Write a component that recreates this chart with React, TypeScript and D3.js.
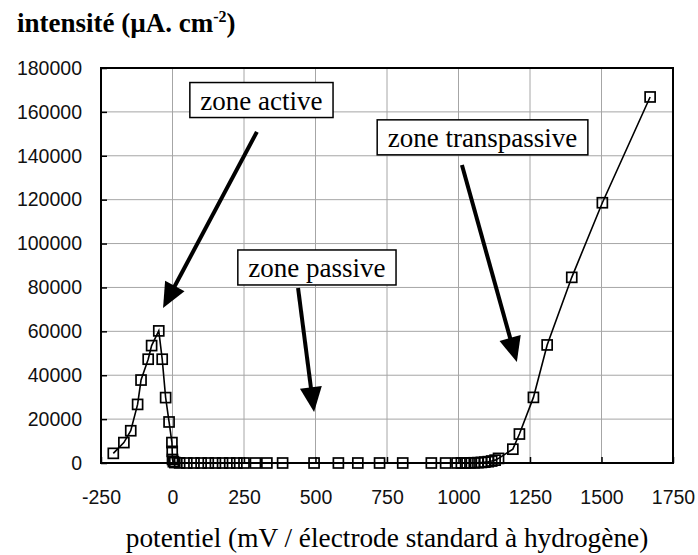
import React, { useEffect, useRef } from "react";
import * as d3 from "d3";

// potentiel (mV / ESH) et intensité (µA.cm-2)
const potentiel: number[] = [
    -207, -170, -146, -122, -110, -85, -73, -48, -36, -24, -12, -2, -1, 0, 3, 8,
    25, 50, 75, 100, 125, 150, 175, 200, 225, 250, 290, 330, 385, 495, 580,
    648, 724, 805, 905, 955,
    995, 1010, 1025, 1040, 1055, 1068, 1080, 1092, 1104, 1116, 1128, 1140,
    1190, 1213, 1262, 1310, 1396, 1503, 1670,
];
const intensite: number[] = [
    4400, 9300, 14700, 26700, 37800, 47300, 53500, 60200, 47300, 29800, 18700,
    9300, 5300, 1600, 600, 200,
    50, 0, 0, 0, 0, 0, 0, 0, 0, 0, 0, 0, 0, 0, 0,
    0, 0, 0, 0, 0,
    0, 0, 0, 50, 100, 150, 250, 400, 600, 900, 1300, 2100,
    6300, 13200, 29900, 53800, 84600, 118600, 166800,
];

const xTicks: number[] = [-250, 0, 250, 500, 750, 1000, 1250, 1500, 1750];
const yTicks: number[] = [
    0, 20000, 40000, 60000, 80000, 100000, 120000, 140000, 160000, 180000,
];

const zoneLabels: string[] = ["zone active", "zone passive", "zone transpassive"];
// centre de la boîte, départ et pointe de la flèche (en unités du graphique)
const zoneBox: [number, number][] = [
    [311, 165400],
    [505, 89100],
    [1084, 148400],
];
const arrowFrom: [number, number][] = [
    [295, 150900],
    [439, 79800],
    [1012, 135800],
];
const arrowTo: [number, number][] = [
    [-33, 70600],
    [495, 23200],
    [1204, 46000],
];

const width = 698;
const height = 555;
const margins = { top: 68, right: 25, bottom: 92, left: 101 };
const serif = "'Liberation Serif', 'Times New Roman', serif";
const sans = "'Liberation Sans', Arial, sans-serif";

const App: React.FC = () => {
    const svgRef = useRef<SVGSVGElement | null>(null);

    useEffect(() => {
        if (!svgRef.current) return;
        const svg = d3.select(svgRef.current);
        svg.selectAll("*").remove();

        const x = d3
            .scaleLinear()
            .domain([-250, 1750])
            .range([margins.left, width - margins.right]);
        const y = d3
            .scaleLinear()
            .domain([0, 180000])
            .range([height - margins.bottom, margins.top]);

        svg.append("rect")
            .attr("width", width)
            .attr("height", height)
            .attr("fill", "white");

        // grid
        svg.append("g")
            .attr("stroke", "#a6a6a6")
            .attr("stroke-width", 1)
            .selectAll("line")
            .data(xTicks.slice(1, -1))
            .join("line")
            .attr("x1", (d) => x(d))
            .attr("x2", (d) => x(d))
            .attr("y1", y(0))
            .attr("y2", y(180000));
        svg.append("g")
            .attr("stroke", "#a6a6a6")
            .attr("stroke-width", 1)
            .selectAll("line")
            .data(yTicks.slice(1, -1))
            .join("line")
            .attr("x1", x(-250))
            .attr("x2", x(1750))
            .attr("y1", (d) => y(d))
            .attr("y2", (d) => y(d));

        // axes
        svg.append("g")
            .attr("transform", `translate(0,${y(0)})`)
            .call(
                d3
                    .axisBottom(x)
                    .tickValues(xTicks)
                    .tickSize(-6)
                    .tickPadding(27)
                    .tickFormat((d) => String(d))
            )
            .call((g) => g.select(".domain").remove())
            .call((g) => g.selectAll(".tick line").attr("stroke", "black").attr("stroke-width", 1.5))
            .call((g) =>
                g
                    .selectAll(".tick text")
                    .attr("fill", "#111")
                    .attr("font-family", sans)
                    .attr("font-size", 19.5)
            );

        svg.append("g")
            .attr("transform", `translate(${x(-250)},0)`)
            .call(
                d3
                    .axisLeft(y)
                    .tickValues(yTicks)
                    .tickSize(-6)
                    .tickPadding(19)
                    .tickFormat((d) => String(d))
            )
            .call((g) => g.select(".domain").remove())
            .call((g) => g.selectAll(".tick line").attr("stroke", "black").attr("stroke-width", 1.5))
            .call((g) =>
                g
                    .selectAll(".tick text")
                    .attr("fill", "#111")
                    .attr("font-family", sans)
                    .attr("font-size", 19.5)
            );

        // frame
        svg.append("rect")
            .attr("x", x(-250))
            .attr("y", y(180000))
            .attr("width", x(1750) - x(-250))
            .attr("height", y(0) - y(180000))
            .attr("fill", "none")
            .attr("stroke", "black")
            .attr("stroke-width", 2);

        // curve
        const pts = potentiel.map((p, i) => [p, intensite[i]] as [number, number]);
        const line = d3
            .line<[number, number]>()
            .x((d) => x(d[0]))
            .y((d) => y(d[1]));
        svg.append("path")
            .datum(pts)
            .attr("d", line)
            .attr("fill", "none")
            .attr("stroke", "black")
            .attr("stroke-width", 1.6);

        svg.append("g")
            .attr("fill", "none")
            .attr("stroke", "black")
            .attr("stroke-width", 1.7)
            .selectAll("rect")
            .data(pts)
            .join("rect")
            .attr("x", (d) => x(d[0]) - 5)
            .attr("y", (d) => y(d[1]) - 5)
            .attr("width", 10)
            .attr("height", 10);

        // arrows
        zoneLabels.forEach((_, i) => {
            const x0 = x(arrowFrom[i][0]);
            const y0 = y(arrowFrom[i][1]);
            const x1 = x(arrowTo[i][0]);
            const y1 = y(arrowTo[i][1]);
            const len = Math.hypot(x1 - x0, y1 - y0);
            const ux = (x1 - x0) / len;
            const uy = (y1 - y0) / len;
            const headLen = 25;
            const headW = 11;
            const bx = x1 - ux * headLen;
            const by = y1 - uy * headLen;
            svg.append("line")
                .attr("x1", x0)
                .attr("y1", y0)
                .attr("x2", bx + ux * 2)
                .attr("y2", by + uy * 2)
                .attr("stroke", "black")
                .attr("stroke-width", 4);
            svg.append("path")
                .attr(
                    "d",
                    `M${x1},${y1}L${bx - uy * headW},${by + ux * headW}L${bx + uy * headW},${by - ux * headW}Z`
                )
                .attr("fill", "black");
        });

        // labelled boxes
        zoneLabels.forEach((label, i) => {
            const cx = x(zoneBox[i][0]);
            const cy = y(zoneBox[i][1]);
            const g = svg.append("g");
            const rect = g.append("rect");
            const text = g
                .append("text")
                .attr("x", cx)
                .attr("y", cy + 9.5)
                .attr("text-anchor", "middle")
                .attr("font-family", serif)
                .attr("font-size", 27)
                .attr("fill", "black")
                .text(label);
            const w = (text.node() as SVGTextElement).getComputedTextLength() + 21;
            const h = 35;
            rect.attr("x", cx - w / 2)
                .attr("y", cy - h / 2)
                .attr("width", w)
                .attr("height", h)
                .attr("fill", "white")
                .attr("stroke", "black")
                .attr("stroke-width", 1.5);
        });

        // titles
        const title = svg
            .append("text")
            .attr("x", 17)
            .attr("y", 32)
            .attr("font-family", serif)
            .attr("font-size", 27)
            .attr("font-weight", "bold")
            .attr("fill", "black");
        title.append("tspan").text("intensité (µA. cm");
        title.append("tspan").attr("font-size", 16).attr("dy", -10).text("-2");
        title.append("tspan").attr("dy", 10).text(")");

        svg.append("text")
            .attr("x", (x(-250) + x(1750)) / 2)
            .attr("y", 547)
            .attr("text-anchor", "middle")
            .attr("font-family", serif)
            .attr("font-size", 27.3)
            .attr("fill", "black")
            .text("potentiel (mV / électrode standard à hydrogène)");
    }, []);

    return (
        <svg
            ref={svgRef}
            width={width}
            height={height}
            viewBox={`0 0 ${width} ${height}`}
            style={{ position: "absolute", left: 0, top: 0, display: "block" }}
        ></svg>
    );
};

export default App;
